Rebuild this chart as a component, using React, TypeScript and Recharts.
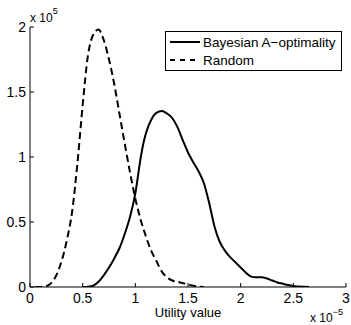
import React from 'react';
import { LineChart, Line, XAxis, YAxis, Legend } from 'recharts';

const xTicks = [0, 0.5, 1, 1.5, 2, 2.5, 3];
const yTicks = [0, 0.5, 1, 1.5, 2];

const randomX = [0.05, 0.1, 0.15, 0.2, 0.25, 0.3, 0.35, 0.4, 0.45, 0.5, 0.55, 0.6, 0.65, 0.7, 0.75, 0.8, 0.85, 0.9, 0.95, 1.0, 1.05, 1.1, 1.15, 1.2, 1.25, 1.3, 1.35, 1.4, 1.45, 1.5, 1.55, 1.6, 1.65];
const randomY = [0, 0, 0.005, 0.03, 0.09, 0.2, 0.36, 0.58, 0.95, 1.4, 1.78, 1.94, 1.98, 1.9, 1.75, 1.56, 1.33, 1.1, 0.88, 0.68, 0.52, 0.39, 0.28, 0.2, 0.12, 0.075, 0.05, 0.04, 0.03, 0.02, 0.01, 0.003, 0];

const bayesX = [0.5, 0.55, 0.6, 0.65, 0.7, 0.75, 0.8, 0.85, 0.9, 0.95, 1.0, 1.05, 1.075, 1.1, 1.125, 1.15, 1.175, 1.2, 1.25, 1.3, 1.35, 1.4, 1.45, 1.5, 1.55, 1.6, 1.65, 1.7, 1.75, 1.8, 1.85, 1.9, 1.95, 2.0, 2.05, 2.1, 2.15, 2.2, 2.25, 2.3, 2.35, 2.4, 2.45, 2.5, 2.55, 2.6, 2.65];
const bayesY = [0, 0.002, 0.01, 0.04, 0.09, 0.15, 0.22, 0.3, 0.41, 0.54, 0.72, 0.99, 1.1, 1.18, 1.24, 1.285, 1.32, 1.34, 1.353, 1.335, 1.3, 1.23, 1.13, 1.035, 0.96, 0.89, 0.8, 0.65, 0.47, 0.35, 0.28, 0.23, 0.19, 0.15, 0.11, 0.08, 0.075, 0.075, 0.065, 0.05, 0.035, 0.025, 0.015, 0.008, 0.003, 0.001, 0];

const seriesNames = ['Bayesian A\u2212optimality', 'Random'];

const bayesData = bayesX.map((x, i) => ({ x, y: bayesY[i] }));
const randomData = randomX.map((x, i) => ({ x, y: randomY[i] }));

const FONT = '"Liberation Sans", Arial, Helvetica, sans-serif';
const tickStyle = { fill: '#000', fontSize: 14, fontFamily: FONT };

const LegendBox = () => (
  <svg width={178} height={41} style={{ display: 'block', fontFamily: FONT }}>
    <rect x={0.5} y={0.5} width={176} height={39} fill="#fff" stroke="#000" strokeWidth={1} />
    <line x1={5} x2={35} y1={11} y2={11} stroke="#000" strokeWidth={2} />
    <line x1={5} x2={35} y1={29} y2={29} stroke="#000" strokeWidth={2} strokeDasharray="5 5" />
    <text x={38} y={15.5} fontSize={13.5} fill="#000">{seriesNames[0]}</text>
    <text x={38} y={34} fontSize={13.5} fill="#000">{seriesNames[1]}</text>
  </svg>
);

export default function App() {
  return (
    <div style={{ position: 'absolute', left: 0, top: 0, width: 351, height: 325, background: '#fff' }}>
      <LineChart
        width={351}
        height={325}
        margin={{ top: 27, right: 5, bottom: 0, left: 0 }}
        style={{ fontFamily: FONT }}
      >
        <XAxis
          xAxisId={0}
          dataKey="x"
          type="number"
          domain={[0, 3]}
          ticks={xTicks}
          allowDataOverflow
          height={38}
          stroke="#000"
          tickSize={-4}
          tickMargin={10}
          tick={tickStyle}
          interval={0}
          label={{ value: 'Utility value', position: 'insideBottom', offset: 8, fill: '#000', fontSize: 13, fontFamily: FONT }}
        />
        <XAxis
          xAxisId="top"
          orientation="top"
          dataKey="x"
          type="number"
          domain={[0, 3]}
          ticks={xTicks}
          height={0}
          stroke="#000"
          tickSize={-4}
          tick={false}
          interval={0}
        />
        <YAxis
          yAxisId={0}
          type="number"
          domain={[0, 2]}
          ticks={yTicks}
          allowDataOverflow
          width={30}
          stroke="#000"
          tickSize={-4}
          tickMargin={8}
          tick={tickStyle}
          interval={0}
        />
        <YAxis
          yAxisId="right"
          orientation="right"
          type="number"
          domain={[0, 2]}
          ticks={yTicks}
          width={0}
          stroke="#000"
          tickSize={-4}
          tick={false}
          interval={0}
        />
        <Line
          data={bayesData}
          dataKey="y"
          xAxisId={0}
          yAxisId={0}
          type="monotone"
          stroke="#000"
          strokeWidth={2}
          dot={false}
          isAnimationActive={false}
          name={seriesNames[0]}
        />
        <Line
          data={randomData}
          dataKey="y"
          xAxisId={0}
          yAxisId={0}
          type="monotone"
          stroke="#000"
          strokeWidth={2}
          strokeDasharray="7 4"
          dot={false}
          isAnimationActive={false}
          name={seriesNames[1]}
        />
        <Legend
          layout="vertical"
          verticalAlign="middle"
          align="center"
          wrapperStyle={{ position: 'absolute', top: 30.5, left: 165, width: 178, height: 41 }}
          content={() => <LegendBox />}
        />
        <text x={30} y={22} fontSize={12} fill="#000" fontFamily={FONT}>
          x 10
          <tspan dy={-8} fontSize={9}>5</tspan>
        </text>
        <text x={310} y={321.5} fontSize={12} fill="#000" fontFamily={FONT}>
          x 10
          <tspan dy={-7} fontSize={9}>{'\u22125'}</tspan>
        </text>
      </LineChart>
    </div>
  );
}
